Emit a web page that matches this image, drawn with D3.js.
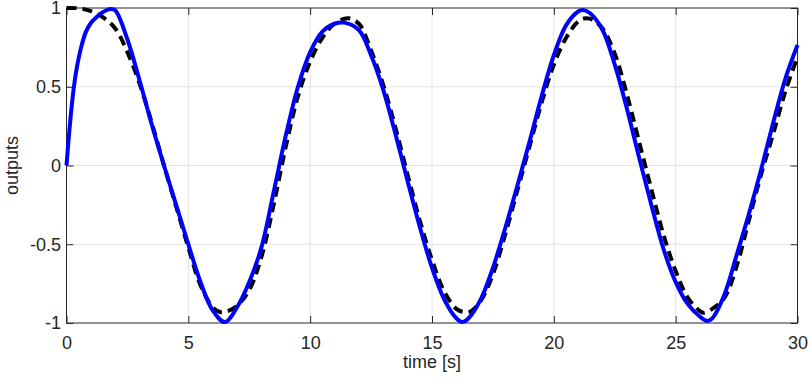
<!DOCTYPE html>
<html>
<head>
<meta charset="utf-8">
<script src="https://cdn.jsdelivr.net/npm/d3@7"></script>
<style>
  body { margin: 0; background: #fff; }
  svg { display: block; font-family: "Liberation Sans", Arial, sans-serif; }
  .axis text { fill: #262626; font-size: 18px; }
  .axis line { stroke: #262626; }
  .grid line { stroke: #e3e3e3; }
</style>
</head>
<body>
<div id="chart"></div>
<script>
// system output (blue, solid)
var outTime = [0, 0.1, 0.25, 0.4, 0.6, 0.8, 1.0, 1.25, 1.5, 1.8, 2.0, 2.5, 3.0, 3.5, 4.0, 4.5, 5.0, 5.5, 6.0, 6.5,
  7.0, 7.5, 8.0, 8.5, 9.0, 9.5, 10.0, 10.5, 11.0, 11.4, 12.0, 12.5, 13.0, 13.5, 14.0, 14.5, 15.0, 15.5,
  16.0, 16.25, 16.5, 17.0, 17.5, 18.0, 18.5, 19.0, 19.5, 20.0, 20.5, 21.0, 21.2, 21.5, 22.0, 22.5, 23.0,
  23.5, 24.0, 24.5, 25.0, 25.5, 26.0, 26.3, 26.5, 27.0, 27.5, 28.0, 28.5, 29.0, 29.5, 30.0];
var outValues = [0, 0.19, 0.43, 0.60, 0.75, 0.85, 0.905, 0.945, 0.975, 0.994, 0.985, 0.80, 0.54, 0.26, 0.0, -0.25, -0.50, -0.74, -0.92, -0.994,
  -0.90, -0.74, -0.52, -0.17, 0.19, 0.50, 0.72, 0.85, 0.90, 0.907, 0.86, 0.70, 0.48, 0.20, -0.10, -0.39, -0.65, -0.85,
  -0.97, -0.994, -0.97, -0.85, -0.65, -0.40, -0.13, 0.15, 0.44, 0.70, 0.89, 0.978, 0.987, 0.965, 0.86, 0.64, 0.36,
  0.05, -0.25, -0.53, -0.74, -0.88, -0.96, -0.987, -0.97, -0.82, -0.57, -0.31, -0.03, 0.27, 0.55, 0.765];

// reference (black, dashed)
var refTime = [0, 0.5, 1.0, 1.5, 2.0, 2.5, 3.0, 3.5, 4.0, 4.5, 5.0, 5.5, 6.0, 6.3, 6.6, 7.0, 7.5, 8.0, 8.5,
  9.0, 9.5, 10.0, 10.5, 11.0, 11.55, 12.0, 12.5, 13.0, 13.5, 14.0, 14.5, 15.0, 15.5, 16.0, 16.3, 16.6, 17.0,
  17.5, 18.0, 18.5, 19.0, 19.5, 20.0, 20.5, 21.0, 21.3, 21.6, 22.0, 22.5, 23.0, 23.5, 24.0, 24.5, 25.0, 25.5,
  26.0, 26.15, 26.5, 27.0, 27.5, 28.0, 28.5, 29.0, 29.5, 30.0];
var refValues = [1.0, 0.998, 0.98, 0.94, 0.87, 0.72, 0.52, 0.27, 0.0, -0.26, -0.52, -0.76, -0.90, -0.93, -0.925, -0.89, -0.79, -0.58, -0.25,
  0.12, 0.44, 0.66, 0.81, 0.90, 0.935, 0.90, 0.73, 0.51, 0.24, -0.06, -0.35, -0.60, -0.80, -0.91, -0.93, -0.925, -0.86,
  -0.69, -0.44, -0.16, 0.12, 0.40, 0.64, 0.81, 0.915, 0.935, 0.925, 0.87, 0.71, 0.45, 0.15, -0.15, -0.44, -0.67, -0.84,
  -0.925, -0.935, -0.91, -0.84, -0.64, -0.35, -0.06, 0.20, 0.47, 0.69];

var xTicks = [0, 5, 10, 15, 20, 25, 30];
var yTicks = [-1, -0.5, 0, 0.5, 1];
var yTickLabels = ["-1", "-0.5", "0", "0.5", "1"];

var svg_width = 809, svg_height = 385;
var plot = {left: 66.5, right: 797.5, top: 8, bottom: 323};

var svg = d3.select("#chart").append("svg")
  .attr("width", svg_width)
  .attr("height", svg_height);

var x = d3.scaleLinear().domain([0, 30]).range([plot.left, plot.right]);
var y = d3.scaleLinear().domain([-1, 1]).range([plot.bottom, plot.top]);

// grid
svg.append("g").attr("class", "grid")
  .selectAll("line").data(xTicks.slice(1, -1)).enter().append("line")
  .attr("x1", function(d) { return x(d); }).attr("x2", function(d) { return x(d); })
  .attr("y1", plot.top).attr("y2", plot.bottom);
svg.append("g").attr("class", "grid")
  .selectAll("line").data(yTicks.slice(1, -1)).enter().append("line")
  .attr("x1", plot.left).attr("x2", plot.right)
  .attr("y1", function(d) { return y(d); }).attr("y2", function(d) { return y(d); });

// axes, ticks pointing inward on all four sides
svg.append("g").attr("class", "axis")
  .attr("transform", "translate(0," + plot.bottom + ")")
  .call(d3.axisBottom(x).tickValues(xTicks).tickSize(-7).tickPadding(13.5).tickFormat(d3.format("d")))
  .call(function(g) { g.select(".domain").remove(); });
svg.append("g").attr("class", "axis")
  .attr("transform", "translate(0," + plot.top + ")")
  .call(d3.axisTop(x).tickValues(xTicks).tickSize(-7).tickFormat(""))
  .call(function(g) { g.select(".domain").remove(); });
svg.append("g").attr("class", "axis")
  .attr("transform", "translate(" + plot.left + ",0)")
  .call(d3.axisLeft(y).tickValues(yTicks).tickSize(-7).tickPadding(5.5)
    .tickFormat(function(d, i) { return yTickLabels[i]; }))
  .call(function(g) { g.select(".domain").remove(); });
svg.append("g").attr("class", "axis")
  .attr("transform", "translate(" + plot.right + ",0)")
  .call(d3.axisRight(y).tickValues(yTicks).tickSize(-7).tickFormat(""))
  .call(function(g) { g.select(".domain").remove(); });

// box
svg.append("rect")
  .attr("x", plot.left).attr("y", plot.top)
  .attr("width", plot.right - plot.left).attr("height", plot.bottom - plot.top)
  .attr("fill", "none").attr("stroke", "#262626").attr("stroke-width", 1);

var line = d3.line()
  .x(function(d) { return x(d[0]); })
  .y(function(d) { return y(d[1]); })
  .curve(d3.curveCatmullRom.alpha(0.5));

svg.append("path")
  .datum(d3.zip(refTime, refValues))
  .attr("d", line)
  .attr("fill", "none")
  .attr("stroke", "#000")
  .attr("stroke-width", 4)
  .attr("stroke-dasharray", "10,6");

svg.append("path")
  .datum(d3.zip(outTime, outValues))
  .attr("d", line)
  .attr("fill", "none")
  .attr("stroke", "#0000ff")
  .attr("stroke-width", 4);

// axis labels
svg.append("text")
  .attr("x", (plot.left + plot.right) / 2)
  .attr("y", 368)
  .attr("text-anchor", "middle")
  .attr("fill", "#262626")
  .attr("font-size", "18px")
  .text("time [s]");

svg.append("text")
  .attr("transform", "translate(18," + (plot.top + plot.bottom) / 2 + ") rotate(-90)")
  .attr("text-anchor", "middle")
  .attr("fill", "#262626")
  .attr("font-size", "18px")
  .text("outputs");
</script>
</body>
</html>
